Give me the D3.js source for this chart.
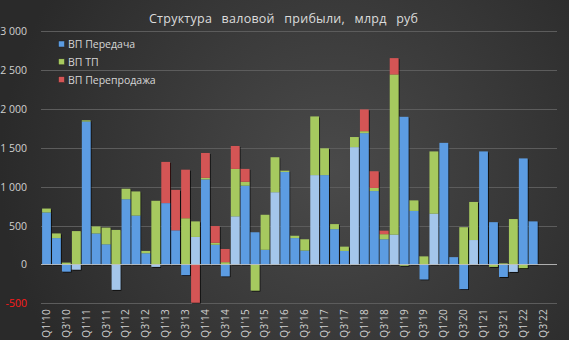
<!DOCTYPE html>
<html><head><meta charset="utf-8">
<script src="https://cdn.jsdelivr.net/npm/d3@7"></script>
<style>
html,body{margin:0;padding:0;background:#2e2e2e;}
svg{display:block;}
text{font-family:"Open Sans","Noto Sans",sans-serif;}
</style></head>
<body>
<svg id="chart" width="569" height="340"></svg>
<script>
const quarters = [];
for (let y = 10; y <= 22; y++) for (let q = 1; q <= 4; q++) quarters.push(`Q${q}'${y}`);

const seriesNames = ["ВП Передача", "ВП ТП", "ВП Перепродажа"];

const peredacha = [
  670, 340, -90, -65,
  1840, 400, 260, -325,
  840, 630, 145, -30,
  790, 440, -135, 355,
  1095, 255, -150, 620,
  1015, 415, 190, 930,
  1190, 340, 180, 1150,
  1150, 455, 175, 1510,
  1690, 945, 325, 385,
  1900, 690, -190, 655,
  1565, 95, -315, 315,
  1455, 545, -160, -95,
  1365, 555, 0, 0
];
const tp = [
  50, 60, 25, 430,
  15, 90, 215, 445,
  135, 310, 30, 820,
  0, 0, 595, 200,
  20, 25, 30, 610,
  50, -335, 450, 450,
  17, 30, 145, 755,
  345, 65, 55, 130,
  25, 40, 65, 2060,
  -15, 135, 105, 800,
  0, 0, 480, 490,
  0, -30, 15, 585,
  -45, 0, 0, 0
];
const pereprodazha = [
  0, 0, 0, 0,
  0, 0, 0, 0,
  0, 0, 0, 0,
  530, 520, 625, -490,
  320, 215, 170, 295,
  165, 0, 0, 0,
  0, 0, 0, 0,
  0, 0, 0, 0,
  280, 215, 45, 210,
  0, 0, 0, 0,
  0, 0, 0, 0,
  0, 0, 0, 0,
  0, 0, 0, 0
];
const yTicks = [-500, 0, 500, 1000, 1500, 2000, 2500, 3000];
const xTickLabels = quarters.filter((q, i) => i % 2 === 0);

const colors = ["#5b9ce2", "#a6c95e", "#d45555"];
const lightBlue = "#a4c6eb";

const W = 569, H = 340;
const svg = d3.select("#chart");

// background
const defs = svg.append("defs");
const rg = defs.append("radialGradient").attr("id", "bg")
  .attr("gradientUnits", "userSpaceOnUse")
  .attr("cx", 330).attr("cy", 170).attr("r", 330);
rg.append("stop").attr("offset", "0%").attr("stop-color", "#4a4a4a");
rg.append("stop").attr("offset", "100%").attr("stop-color", "#2a2a2a");
const sh = defs.append("filter").attr("id", "sh").attr("x", "-30%").attr("y", "-10%").attr("width", "160%").attr("height", "120%");
sh.append("feDropShadow").attr("dx", 1).attr("dy", 1).attr("stdDeviation", 0.6)
  .attr("flood-color", "#000").attr("flood-opacity", 0.75);

svg.append("rect").attr("width", W).attr("height", H).attr("fill", "url(#bg)");

const x = d3.scaleBand().domain(quarters).range([41.5, 558]).paddingInner(0.12).paddingOuter(0.06);
const y = d3.scaleLinear().domain([-500, 3000]).range([303.4, 31.3]);

// gridlines
svg.append("g").selectAll("line").data(yTicks.filter(t => t !== 0)).join("line")
  .attr("x1", 41).attr("x2", 557)
  .attr("y1", d => Math.round(y(d)) + 0.5).attr("y2", d => Math.round(y(d)) + 0.5)
  .attr("stroke", "#5c5c5c").attr("stroke-width", 1);

// y axis
const loc = d3.formatLocale({decimal: ",", thousands: " ", grouping: [3], currency: ["", ""], minus: "-"});
const fmt = loc.format(",");
const yAxis = d3.axisLeft(y).tickValues(yTicks).tickFormat(fmt).tickSize(0).tickPadding(0);
const gy = svg.append("g").attr("transform", "translate(27,0)").call(yAxis);
gy.select(".domain").remove();
gy.selectAll("text").attr("fill", d => d < 0 ? "#ff1a1a" : "#d0d0d0")
  .style("font-size", "10.5px").attr("font-family", '"Open Sans",sans-serif');

// stacked data
const rows = quarters.map((q, i) => ({q, i, s0: peredacha[i], s1: tp[i], s2: pereprodazha[i]}));
const stack = d3.stack().keys(["s0", "s1", "s2"]).offset(d3.stackOffsetDiverging);
const stacked = stack(rows);

const gBars = svg.append("g").attr("filter", "url(#sh)");
stacked.forEach((layer, k) => {
  gBars.append("g").selectAll("rect").data(layer.filter(d => d[1] !== d[0])).join("rect")
    .attr("x", d => x(d.data.q))
    .attr("width", x.bandwidth())
    .attr("y", d => y(Math.max(d[0], d[1])))
    .attr("height", d => Math.abs(y(d[0]) - y(d[1])))
    .attr("fill", d => (k === 0 && d.data.i % 4 === 3) ? lightBlue : colors[k]);
});

// zero line
svg.append("line").attr("x1", 41).attr("x2", 557)
  .attr("y1", y(0)).attr("y2", y(0))
  .attr("stroke", "#c8c8c8").attr("stroke-width", 1).attr("opacity", 0.85);

// x axis labels
const gx = svg.append("g");
gx.selectAll("text").data(xTickLabels).join("text")
  .attr("transform", d => `translate(${x(d) + x.bandwidth() / 2 + 3.5},309) rotate(-90)`)
  .attr("text-anchor", "end")
  .attr("fill", "#d0d0d0")
  .style("font-size", "10px")
  .style("letter-spacing", "0.3px")
  .text(d => d);

// title
svg.append("text").attr("x", 149).attr("y", 23).attr("text-anchor", "start")
  .attr("fill", "#dcdcdc").style("font-size", "12.5px")
  .style("word-spacing", "6px")
  .attr("textLength", 269).attr("lengthAdjust", "spacing")
  .text("Структура валовой прибыли, млрд руб");

// legend
const lg = svg.append("g");
seriesNames.forEach((n, k) => {
  const cy = 44 + k * 17.8;
  lg.append("rect").attr("x", 58.5).attr("y", cy - 3).attr("width", 6).attr("height", 6)
    .attr("fill", colors[k]).attr("stroke", "#222").attr("stroke-width", 0.5);
  lg.append("text").attr("x", 68).attr("y", cy + 4).attr("fill", "#d6d6d6")
    .style("font-size", "10.5px").text(n);
});
</script>
</body></html>
